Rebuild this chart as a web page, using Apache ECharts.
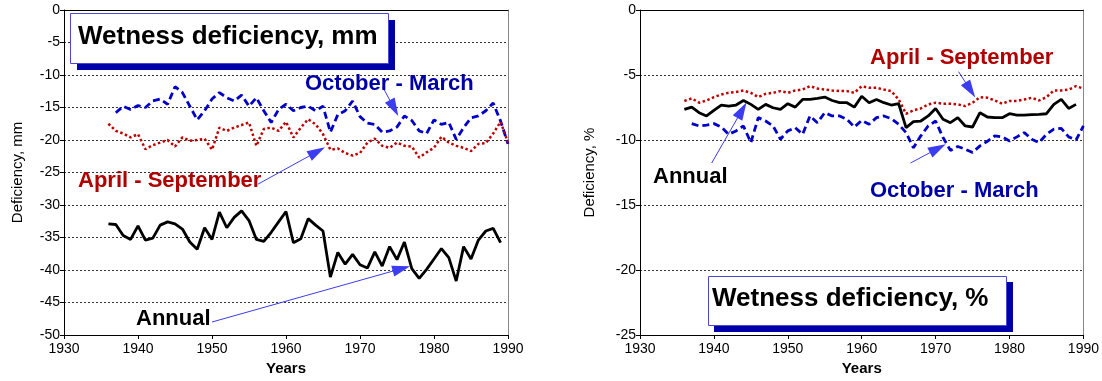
<!DOCTYPE html>
<html><head><meta charset="utf-8">
<script src="https://cdn.jsdelivr.net/npm/echarts@6/dist/echarts.min.js"></script>
<style>html,body{margin:0;padding:0;background:#fff}#c{width:1102px;height:381px}</style>
</head><body><div id="c"></div><script>
// ---- data ----
const years = [1936,1937,1938,1939,1940,1941,1942,1943,1944,1945,
  1946,1947,1948,1949,1950,1951,1952,1953,1954,1955,
  1956,1957,1958,1959,1960,1961,1962,1963,1964,1965,
  1966,1967,1968,1969,1970,1971,1972,1973,1974,1975,
  1976,1977,1978,1979,1980,1981,1982,1983,1984,1985,
  1986,1987,1988,1989,1990];

// Left panel: deficiency, mm
const annualMm = [-32.9,-33.0,-34.7,-35.3,-33.2,-35.4,-35.1,-33.1,-32.6,-32.9,
  -33.7,-35.7,-36.8,-33.5,-35.3,-31.1,-33.5,-31.9,-30.9,-32.4,
  -35.3,-35.6,-34.2,-32.6,-31.0,-35.8,-35.2,-32.1,-33.1,-34.0,
  -41.1,-37.3,-39.1,-37.6,-39.2,-39.7,-37.2,-39.4,-36.4,-38.4,
  -35.7,-39.8,-41.3,-39.9,-38.3,-36.7,-38.1,-41.7,-36.4,-38.3,
  -35.4,-34.0,-33.6,-35.8,null];
const aprSepMm = [-17.5,-18.6,-19.0,-19.6,-19.1,-21.4,-20.8,-20.4,-20.0,-21.0,
  -19.6,-20.1,-20.0,-19.8,-21.5,-18.1,-18.6,-18.1,-17.7,-17.3,
  -20.9,-18.3,-18.1,-18.6,-17.2,-19.6,-18.1,-16.8,-17.6,-19.1,
  -21.5,-21.3,-22.0,-22.4,-22.0,-20.4,-19.8,-20.9,-21.2,-20.4,
  -20.9,-21.0,-22.7,-21.9,-21.2,-19.5,-20.4,-20.9,-21.2,-21.7,
  -20.6,-20.5,-19.0,-17.2,-20.4];
const octMarMm = [null,-15.8,-14.8,-15.3,-14.7,-15.0,-14.0,-13.7,-14.5,-11.8,
  -12.7,-14.8,-16.9,-15.5,-13.7,-12.7,-13.5,-14.0,-13.1,-14.8,
  -13.5,-15.5,-17.3,-15.3,-14.5,-15.5,-15.0,-14.8,-15.5,-14.8,
  -18.8,-16.1,-15.5,-14.0,-16.4,-17.4,-17.6,-18.8,-18.6,-18.0,
  -16.3,-17.0,-18.6,-19.0,-16.9,-17.6,-17.3,-19.9,-18.1,-16.6,
  -16.3,-15.5,-14.3,-17.1,-20.6];

// Right panel: deficiency, %
const annualPct = [-7.65,-7.47,-7.9,-8.15,-7.72,-7.31,-7.39,-7.31,-6.96,-7.26,
  -7.65,-7.26,-7.52,-7.65,-7.21,-7.47,-6.88,-6.88,-6.8,-6.7,
  -6.96,-7.13,-7.13,-7.47,-6.63,-7.13,-6.88,-7.13,-7.31,-7.21,
  -9.05,-8.59,-8.54,-8.15,-7.57,-8.41,-8.67,-8.28,-8.92,-9.0,
  -7.9,-8.23,-8.28,-8.28,-7.98,-8.08,-8.08,-8.05,-8.03,-7.98,
  -7.26,-6.88,-7.57,-7.26,null];
const aprSepPct = [-7.0,-6.8,-7.13,-6.96,-6.7,-6.5,-6.37,-6.3,-6.19,-6.37,
  -6.7,-6.45,-6.37,-6.24,-6.37,-6.19,-6.12,-5.86,-6.04,-6.12,
  -6.19,-6.24,-6.24,-6.37,-5.86,-5.99,-5.99,-6.12,-6.24,-6.88,
  -7.98,-7.72,-7.57,-7.26,-7.13,-7.21,-7.21,-7.26,-7.39,-7.13,
  -6.7,-6.75,-6.96,-7.21,-7.0,-7.0,-6.88,-6.75,-6.96,-6.7,
  -6.19,-6.19,-6.12,-5.86,-6.04];
const octMarPct = [null,-8.74,-8.92,-8.85,-8.74,-9.0,-9.56,-9.3,-8.92,-10.2,
  -8.28,-8.54,-8.92,-9.94,-9.3,-9.05,-9.56,-8.15,-8.67,-7.9,
  -8.15,-8.15,-8.41,-9.0,-8.49,-8.79,-8.28,-8.15,-8.36,-8.79,
  -9.43,-10.6,-9.68,-8.92,-8.54,-9.81,-10.8,-10.5,-10.7,-10.96,
  -10.45,-10.1,-9.68,-9.76,-10.07,-9.76,-9.43,-9.94,-10.2,-9.56,
  -9.17,-9.1,-9.76,-10.0,-8.92];

// annotation arrows (data coordinates: [year, value] start -> end)
const arrowsLeft = [
  [[1973.1,-11.9],[1974.6,-15.1]],
  [[1956.2,-26.8],[1964.2,-21.8]],
  [[1950.0,-48.0],[1975.6,-39.8]]
];
const arrowsRight = [
  [[1939.7,-11.77],[1943.8,-7.71]],
  [[1973.1,-4.74],[1974.7,-6.15]],
  [[1966.6,-11.77],[1970.3,-10.65]]
];

// ---- chart ----
const FONT = '"Liberation Sans", Arial, Helvetica, sans-serif';
const chart = echarts.init(document.getElementById('c'), null, {renderer:'canvas'});

function pairs(vals){ return years.map((y,i)=>[y, vals[i]]).filter(d=>d[1]!==null); }

function xBottom(g){
  return {gridIndex:g, type:'value', min:1930, max:1990, interval:10, position:'bottom',
    axisLine:{onZero:false, lineStyle:{color:'#000', width:1}},
    axisTick:{show:true, length:4, lineStyle:{color:'#000'}},
    axisLabel:{color:'#000', fontSize:14, margin:7, fontFamily:FONT, formatter:v=>String(v)},
    splitLine:{show:false},
    name:'Years', nameLocation:'middle', nameGap:26,
    nameTextStyle:{color:'#000', fontSize:15, fontWeight:'bold', fontFamily:FONT}};
}
function xTop(g){
  return {gridIndex:g, type:'value', min:1930, max:1990, interval:10, position:'top',
    axisLine:{onZero:false, lineStyle:{color:'#000', width:1}},
    axisTick:{show:false}, axisLabel:{show:false}, splitLine:{show:false}};
}
function yLeft(g, min, name, gap){
  return {gridIndex:g, type:'value', min:min, max:0, interval:5, position:'left',
    axisLine:{show:true, onZero:false, lineStyle:{color:'#000', width:1}},
    axisTick:{show:true, length:4, lineStyle:{color:'#000'}},
    axisLabel:{color:'#000', fontSize:14, margin:4, fontFamily:FONT, formatter:v=>String(v)},
    splitLine:{show:true, lineStyle:{type:[2,2], color:'#333', width:1}},
    name:name, nameLocation:'middle', nameGap:gap,
    nameTextStyle:{color:'#000', fontSize:15, fontFamily:FONT}};
}
function yRight(g, min){
  return {gridIndex:g, type:'value', min:min, max:0, interval:5, position:'right',
    axisLine:{show:true, onZero:false, lineStyle:{color:'#888', width:1}},
    axisTick:{show:false}, axisLabel:{show:false}, splitLine:{show:false}};
}
function line(name, xi, yi, vals, color, type, width){
  return {type:'line', name:name, xAxisIndex:xi, yAxisIndex:yi, data:pairs(vals),
    symbol:'none', showSymbol:false, silent:true,
    lineStyle:{color:color, width:width, type:type}, itemStyle:{color:color}, z:3};
}
const ARROW = '#3c3cf0';
function arrowMark(list){
  return {silent:true, symbol:['none','triangle'], symbolSize:16,
    lineStyle:{color:ARROW, width:1, type:'solid'},
    itemStyle:{color:ARROW},
    label:{show:false},
    data:list.map(a=>[
      {coord:a[0], symbol:'none'},
      {coord:a[1], symbol:'triangle', symbolSize:[11,18], itemStyle:{color:ARROW}}
    ])};
}

const BLUE = '#0000c8', RED = '#c00000';
const sAnnL = line('Annual',0,0,annualMm,'#000','solid',2.8);
sAnnL.markLine = arrowMark(arrowsLeft);
const sAnnR = line('Annual',2,2,annualPct,'#000','solid',2.8);
sAnnR.markLine = arrowMark(arrowsRight);

const TITLE_FONT = 'bold 26px ' + FONT;
const LAB_FONT = 'bold 22px ' + FONT;
function txt(x,y,t,font,fill){
  return {type:'text', x:x, y:y, z:12, silent:true,
    style:{text:t, font:font, fill:fill, verticalAlign:'middle', align:'left'}};
}

chart.setOption({
  animation:false,
  textStyle:{fontFamily:FONT},
  grid:[
    {left:64, top:10, width:444, height:327},
    {left:640, top:10, width:445, height:327}
  ],
  xAxis:[xBottom(0), xTop(0), xBottom(1), xTop(1)],
  yAxis:[yLeft(0,-50,'Deficiency, mm',39), yRight(0,-50), yLeft(1,-25,'Deficiency, %',43), yRight(1,-25)],
  series:[
    line('October - March',0,0,octMarMm,BLUE,[7,4],2.8),
    line('April - September',0,0,aprSepMm,RED,[2.5,2.5],2.5),
    sAnnL,
    line('October - March',2,2,octMarPct,BLUE,[7,4],2.8),
    line('April - September',2,2,aprSepPct,RED,[2.5,2.5],2.5),
    sAnnR
  ],
  graphic:[
    {type:'rect', z:10, silent:true, shape:{x:77, y:20, width:318, height:50}, style:{fill:'#0000a8'}},
    {type:'rect', z:11, silent:true, shape:{x:70.5, y:13.5, width:318, height:50}, style:{fill:'#fff', stroke:'#4a4ad0', lineWidth:1}},
    txt(78,37,'Wetness deficiency, mm',TITLE_FONT,'#000'),
    {type:'rect', z:10, silent:true, shape:{x:714, y:282, width:299, height:50}, style:{fill:'#0000a8'}},
    {type:'rect', z:11, silent:true, shape:{x:708.5, y:276.5, width:298, height:49}, style:{fill:'#fff', stroke:'#4a4ad0', lineWidth:1}},
    txt(712,299,'Wetness deficiency, %',TITLE_FONT,'#000'),
    txt(305,84,'October - March',LAB_FONT,'#0000a8'),
    txt(78,181,'April - September',LAB_FONT,'#b00000'),
    txt(136,319,'Annual',LAB_FONT,'#000'),
    txt(653,177,'Annual',LAB_FONT,'#000'),
    txt(870,191,'October - March',LAB_FONT,'#0000a8'),
    txt(870,58,'April - September',LAB_FONT,'#b00000')
  ]
});
</script></body></html>
